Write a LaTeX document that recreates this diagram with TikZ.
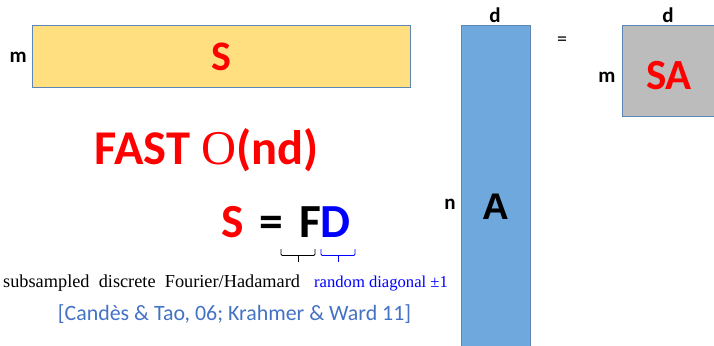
\documentclass[tikz,border=0pt]{standalone}
\usepackage{fontspec}
\usetikzlibrary{calc}
\setmainfont{Carlito}
\newfontfamily\serifface{Liberation Serif}
\newfontfamily\heavyface{Liberation Sans}
\definecolor{goldfill}{HTML}{FFDF80}
\definecolor{bluefill}{HTML}{6FA8DC}
\definecolor{grayfill}{HTML}{BCBCBC}
\definecolor{edgeblue}{HTML}{5B86B5}
\definecolor{citeblue}{HTML}{4472C4}
\definecolor{pureblue}{HTML}{0000FF}
\definecolor{purered}{HTML}{FF0000}
\tikzset{
  matbox/.style={draw=edgeblue, line width=0.8pt, inner sep=0pt},
  dimlabel/.style={font=\fontsize{21}{24}\selectfont\bfseries, inner sep=0pt},
  brace/.style={line width=0.9pt, rounded corners=1.2pt},
}
\begin{document}
\begin{tikzpicture}[x=1pt, y=-1pt]
  \useasboundingbox (0,0) rectangle (714,345);
  \clip (0,0) rectangle (714,345);

  % sketch matrix S
  \node[matbox, fill=goldfill, anchor=north west, minimum width=378pt, minimum height=62pt,
        font=\fontsize{42}{48}\selectfont\bfseries, text=purered] (Sbox) at (32,25) {S};
  \node[dimlabel, anchor=east] (Sm) at (27,57) {m};

  % data matrix A
  \node[matbox, fill=bluefill, anchor=north west, minimum width=69pt, minimum height=340pt] (Abox) at (461,25) {};
  \node[font=\heavyface\fontsize{37}{40}\selectfont\bfseries, inner sep=0pt] (Alab) at (495.5,207) {A};
  \node[dimlabel] (Ad) at (495,15) {d};
  \node[dimlabel] (An) at (450,204) {n};

  \node[font=\fontsize{20}{24}\selectfont, inner sep=0pt] (eq) at (562,41) {=};

  % product SA
  \node[matbox, fill=grayfill, anchor=north west, minimum width=100pt, minimum height=91pt] (SAbox) at (622,25) {};
  \node[font=\fontsize{43}{48}\selectfont\bfseries, text=purered, inner sep=0pt] (SAlab) at (669,76) {SA};
  \node[dimlabel] (SAd) at (668,15) {d};
  \node[dimlabel] (SAm) at (607,77) {m};

  % running time
  \node[font=\fontsize{48.5}{54}\selectfont\bfseries, text=purered, inner sep=0pt] (fast) at (206.5,150)
       {FAST {\serifface\mdseries O}(nd)};

  % factorisation S = FD
  \node[font=\fontsize{47.5}{52}\selectfont\bfseries, inner sep=0pt] (fd) at (286,222)
       {\textcolor{purered}{S}\hspace{16pt}=\hspace{16pt}F\textcolor{pureblue}{D}};

  \coordinate (fL) at (281,249);
  \coordinate (fR) at (315,249);
  \coordinate (dL) at (321,249);
  \coordinate (dR) at (355,249);
  \draw[brace] (fL) -- ++(0,6.5) -| (fR);
  \draw[brace] ($(fL)!0.5!(fR)$) ++(0,6) -- ++(0,7);
  \draw[brace, pureblue] (dL) -- ++(0,6.5) -| (dR);
  \draw[brace, pureblue] ($(dL)!0.5!(dR)$) ++(0,6) -- ++(0,7);

  \node[font=\serifface\fontsize{18.3}{22}\selectfont, anchor=base west, inner sep=0pt] (Fdesc) at (3,287)
       {subsampled\ \ discrete\ \ Fourier/Hadamard};
  \node[font=\serifface\fontsize{16.6}{20}\selectfont, text=pureblue, anchor=base west, inner sep=0pt] (Ddesc) at (314,287)
       {random diagonal ±1};

  \node[font=\fontsize{21.9}{26}\selectfont, text=citeblue, inner sep=0pt] (cite) at (234.5,314)
       {[Candès \& Tao, 06; Krahmer \& Ward 11]};
\end{tikzpicture}
\end{document}
